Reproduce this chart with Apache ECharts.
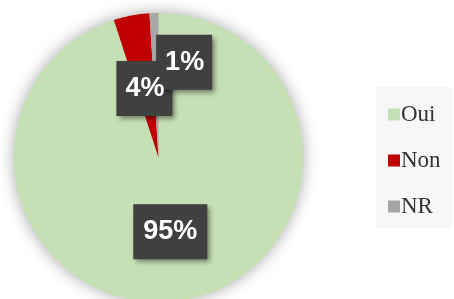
<!DOCTYPE html>
<html>
<head>
<meta charset="UTF-8">
<title>Pie</title>
<script src="https://cdn.jsdelivr.net/npm/echarts@6/dist/echarts.min.js"></script>
<style>
  html, body { margin: 0; padding: 0; background: #fff; }
  #main { width: 454px; height: 299px; }
</style>
</head>
<body>
<div id="main"></div>
<script>
var categories = ['Oui', 'Non', 'NR'];
var values = [95, 4, 1];
var colors = ['#c5e0b4', '#c00000', '#a6a6a6'];

var chart = echarts.init(document.getElementById('main'));

var total = 0;
for (var i = 0; i < values.length; i++) total += values[i];

function buildData(hidden) {
  var out = [];
  for (var j = 0; j < categories.length; j++) {
    out.push({
      name: categories[j],
      value: values[j],
      itemStyle: { color: hidden ? 'rgba(0,0,0,0)' : colors[j] },
      label: { padding: j === 0 ? [14, 10, 14, 10] : [14, 8, 14, 9] }
    });
  }
  return out;
}

function moveLabels(params) {
  if (params.dataIndex === 2) {
    return { dx: 28, dy: -20 };
  }
  if (params.dataIndex === 1) {
    return { dx: 0, dy: 5 };
  }
  return {};
}

var labelFont = {
  show: true,
  position: 'inside',
  formatter: '{d}%',
  fontFamily: '"Liberation Sans", Arial, sans-serif',
  fontWeight: 'bold',
  fontSize: 27,
  lineHeight: 27
};

var option = {
  animation: false,
  legend: {
    orient: 'vertical',
    left: 376,
    top: 87,
    backgroundColor: '#f7f7f7',
    padding: [16, 12, 10, 12],
    itemWidth: 12,
    itemHeight: 12,
    itemGap: 23,
    icon: 'rect',
    data: categories,
    textStyle: {
      fontFamily: '"Liberation Serif", "DejaVu Serif", serif',
      fontSize: 23,
      color: '#333',
      padding: [0, 0, 0, -4]
    }
  },
  series: [
    {
      // shadow underneath the pie
      type: 'pie',
      silent: true,
      center: [158.5, 157.5],
      radius: [0, 144.5],
      label: { show: false },
      labelLine: { show: false },
      itemStyle: {
        color: '#c5e0b4',
        shadowBlur: 16,
        shadowColor: 'rgba(0,0,0,0.35)'
      },
      data: [{ name: '', value: total }],
      z: 1
    },
    {
      // slices + label boxes
      type: 'pie',
      center: [158.5, 157.5],
      radius: [0, 144.5],
      startAngle: 90,
      clockwise: true,
      z: 2,
      label: echarts.util.extend({
        color: 'rgba(0,0,0,0)',
        backgroundColor: '#404040',
        shadowBlur: 5,
        shadowOffsetX: 3,
        shadowOffsetY: 3,
        shadowColor: 'rgba(0,0,0,0.45)'
      }, labelFont),
      labelLine: { show: false },
      labelLayout: moveLabels,
      data: buildData(false)
    },
    {
      // label texts on top of every box
      type: 'pie',
      silent: true,
      center: [158.5, 157.5],
      radius: [0, 144.5],
      startAngle: 90,
      clockwise: true,
      z: 3,
      label: echarts.util.extend({ color: '#fff' }, labelFont),
      labelLine: { show: false },
      labelLayout: moveLabels,
      data: buildData(true)
    }
  ]
};

chart.setOption(option);
</script>
</body>
</html>
